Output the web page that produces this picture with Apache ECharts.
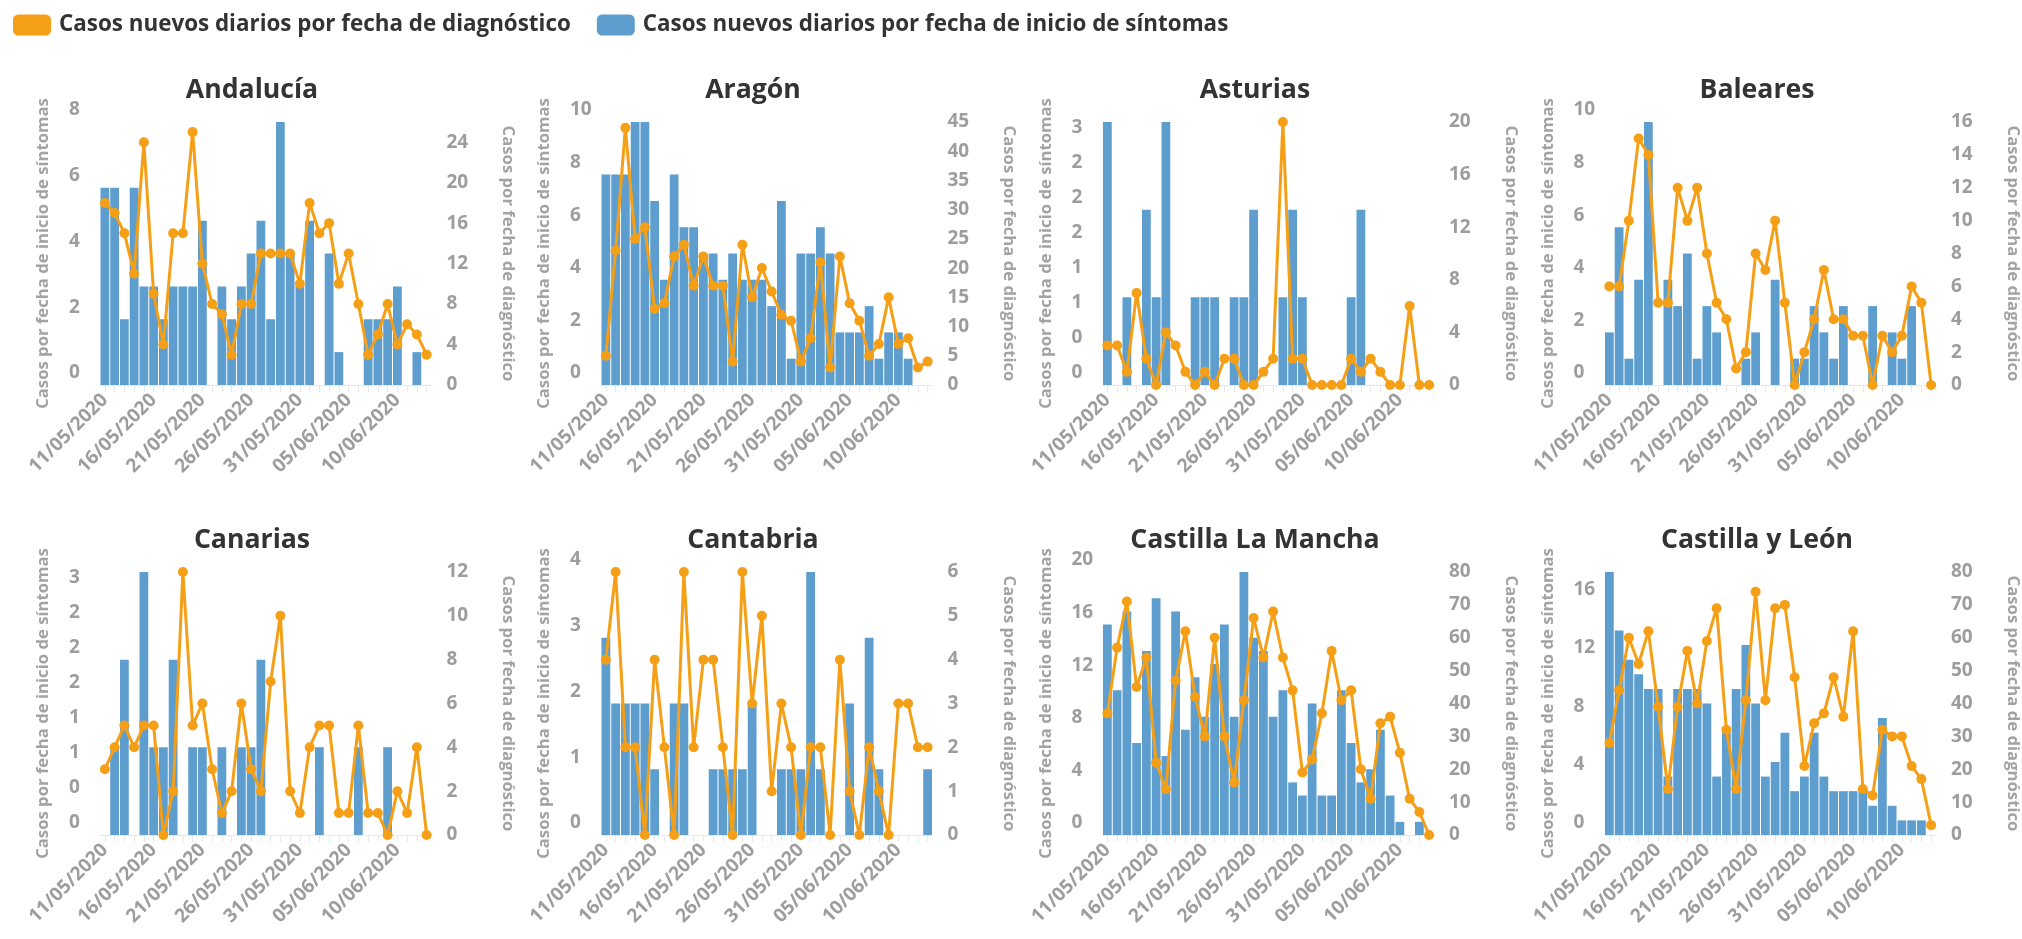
<!DOCTYPE html>
<html><head><meta charset="utf-8">
<script src="https://cdn.jsdelivr.net/npm/echarts@6/dist/echarts.min.js"></script>
<style>html,body{margin:0;padding:0;background:#fff}#c{width:2022px;height:939px}</style>
</head><body><div id="c"></div>
<script>
// ---------- DATA ----------
const dates = ['11/05/2020','12/05/2020','13/05/2020','14/05/2020','15/05/2020','16/05/2020','17/05/2020','18/05/2020','19/05/2020','20/05/2020',
  '21/05/2020','22/05/2020','23/05/2020','24/05/2020','25/05/2020','26/05/2020','27/05/2020','28/05/2020','29/05/2020','30/05/2020',
  '31/05/2020','01/06/2020','02/06/2020','03/06/2020','04/06/2020','05/06/2020','06/06/2020','07/06/2020','08/06/2020','09/06/2020',
  '10/06/2020','11/06/2020','12/06/2020','13/06/2020'];
const regions = ['Andalucía','Aragón','Asturias','Baleares','Canarias','Cantabria','Castilla La Mancha','Castilla y León'];
const legendDiag = 'Casos nuevos diarios por fecha de diagnóstico';
const legendSint = 'Casos nuevos diarios por fecha de inicio de síntomas';
const leftAxisTitle = 'Casos por fecha de inicio de síntomas';
const rightAxisTitle = 'Casos por fecha de diagnóstico';

// bars: casos por fecha de inicio de síntomas (left axis)
const andaluciaSintomas = [6,6,2,6,3,3,2,3,3,3,5,0,3,2,3,4,5,2,8,4,3,5,0,4,1,0,0,2,2,2,3,0,1,0];
const aragonSintomas    = [8,8,8,10,10,7,4,8,6,6,5,5,4,5,4,4,4,3,7,1,5,5,6,5,2,2,2,3,1,2,2,1,0,0];
const asturiasSintomas  = [3,0,1,0,2,1,3,0,0,1,1,1,0,1,1,2,0,0,1,2,1,0,0,0,0,1,2,0,0,0,0,0,0,0];
const balearesSintomas  = [2,6,1,4,10,0,4,3,5,1,3,2,0,0,1,2,0,4,0,1,1,3,2,1,3,0,0,3,0,2,1,3,0,0];
const canariasSintomas  = [0,1,2,0,3,1,1,2,0,1,1,0,1,0,1,1,2,0,0,0,0,0,1,0,0,0,1,0,0,1,0,0,0,0];
const cantabriaSintomas = [3,2,2,2,2,1,0,2,2,0,0,1,1,1,1,2,0,0,1,1,1,4,1,0,0,2,0,3,1,0,0,0,0,1];
const clmSintomas       = [16,11,17,7,14,18,6,17,8,12,9,13,16,9,20,15,14,9,11,4,3,10,3,3,11,7,4,5,8,3,1,0,1,0];
const cylSintomas       = [18,14,12,11,10,10,4,10,10,10,9,4,7,10,13,9,4,5,7,3,4,7,4,3,3,3,3,2,8,2,1,1,1,0];

// lines: casos por fecha de diagnóstico (right axis)
const andaluciaDiag = [18,17,15,11,24,9,4,15,15,25,12,8,7,3,8,8,13,13,13,13,10,18,15,16,10,13,8,3,5,8,4,6,5,3];
const aragonDiag    = [5,23,44,25,27,13,14,22,24,17,22,17,17,4,24,15,20,16,12,11,4,8,21,3,22,14,11,5,7,15,7,8,3,4];
const asturiasDiag  = [3,3,1,7,2,0,4,3,1,0,1,0,2,2,0,0,1,2,20,2,2,0,0,0,0,2,1,2,1,0,0,6,0,0];
const balearesDiag  = [6,6,10,15,14,5,5,12,10,12,8,5,4,1,2,8,7,10,5,0,2,4,7,4,4,3,3,0,3,2,3,6,5,0];
const canariasDiag  = [3,4,5,4,5,5,0,2,12,5,6,3,1,2,6,3,2,7,10,2,1,4,5,5,1,1,5,1,1,0,2,1,4,0];
const cantabriaDiag = [4,6,2,2,0,4,2,0,6,2,4,4,2,0,6,3,5,1,3,2,0,2,2,0,4,1,0,2,1,0,3,3,2,2];
const clmDiag       = [37,57,71,45,54,22,14,47,62,42,30,60,30,16,41,66,54,68,54,44,19,23,37,56,41,44,20,11,34,36,25,11,7,0];
const cylDiag       = [28,44,60,52,62,39,14,39,56,40,59,69,32,14,41,74,41,69,70,48,21,34,37,48,36,62,14,12,32,30,30,21,17,3];

// axis scales (ticks)
const leftMax   = [8,10,3,10,3,4,20,18];
const leftStep  = [2,2,0.4,2,0.4,1,4,4];
const rightMax  = [26,45,20,16,12,6,80,80];
const rightStep = [4,5,4,2,2,1,10,10];

const sintomas = [andaluciaSintomas,aragonSintomas,asturiasSintomas,balearesSintomas,canariasSintomas,cantabriaSintomas,clmSintomas,cylSintomas];
const diag = [andaluciaDiag,aragonDiag,asturiasDiag,balearesDiag,canariasDiag,cantabriaDiag,clmDiag,cylDiag];

// ---------- STYLE / LAYOUT ----------
const FONT = 'Open Sans';
const ORANGE = '#f59f17';
const BLUE = '#5d9ecf';
const GRAY = '#9d9d9d';
const colLeft = [100, 601, 1102.5, 1604.5];
const titleX = [247, 748, 1250, 1752];
const rowTop = [122, 572];
const titleMid = [87, 537];
const gridW = 331.5, gridH = 263;

// font sizes fitted to the measured text widths of the reference
const mctx = document.createElement('canvas').getContext('2d');
function fit(text, width, fallback) {
  mctx.font = 'bold 100px "' + FONT + '"';
  const w = mctx.measureText(text).width;
  return w > 0 ? Math.round(1000 * width / w) / 10 : fallback;
}
const legendSize = fit(legendDiag, 512, 21);
const titleSize = (fit('Castilla La Mancha', 248, 25) + fit('Andalucía', 133, 25)) / 2;
const axisTitleSize = (fit(leftAxisTitle, 312, 16) + fit(rightAxisTitle, 255, 16)) / 2;
const labelSize = 19;

const isMult = (m, s) => Math.abs(m / s - Math.round(m / s)) < 1e-6;

const grids = [], xAxes = [], yAxes = [], series = [], titles = [];
regions.forEach((name, k) => {
  const r = Math.floor(k / 4), c = k % 4;
  grids.push({left: colLeft[c], top: rowTop[r], width: gridW, height: gridH});
  titles.push({text: name, left: titleX[c], top: titleMid[r] - titleSize * 0.65, textAlign: 'center',
    textStyle: {fontFamily: FONT, fontSize: titleSize, fontWeight: 'bold', color: '#333', lineHeight: titleSize * 1.2}});
  xAxes.push({type: 'category', gridIndex: k, data: dates, boundaryGap: true,
    axisLine: {show: true, lineStyle: {color: '#e8e8e8', width: 1}},
    axisTick: {show: true, interval: 0, alignWithLabel: true, length: 7, lineStyle: {color: '#e8e8e8'}},
    axisLabel: {interval: 4, rotate: 45, margin: 12, fontFamily: FONT, fontSize: labelSize, fontWeight: 'bold', color: GRAY},
    splitLine: {show: false}});
  yAxes.push({type: 'value', gridIndex: k, position: 'left', min: 0, max: leftMax[k], interval: leftStep[k],
    axisLine: {show: false}, axisTick: {show: false}, splitLine: {show: false},
    axisLabel: {align: 'left', margin: 31, verticalAlign: 'bottom', lineHeight: 24,
      showMaxLabel: isMult(leftMax[k], leftStep[k]),
      formatter: v => String(Math.round(v)),
      fontFamily: FONT, fontSize: labelSize, fontWeight: 'bold', color: GRAY},
    name: leftAxisTitle, nameLocation: 'middle', nameGap: 48,
    nameTextStyle: {fontFamily: FONT, fontSize: axisTitleSize, fontWeight: 'bold', color: '#a3a3a3'}});
  yAxes.push({type: 'value', gridIndex: k, position: 'right', min: 0, max: rightMax[k], interval: rightStep[k],
    axisLine: {show: false}, axisTick: {show: false}, splitLine: {show: false},
    axisLabel: {margin: 15, showMaxLabel: isMult(rightMax[k], rightStep[k]),
      fontFamily: FONT, fontSize: labelSize, fontWeight: 'bold', color: GRAY},
    name: rightAxisTitle, nameLocation: 'middle', nameGap: 68, nameRotate: -90,
    nameTextStyle: {fontFamily: FONT, fontSize: axisTitleSize, fontWeight: 'bold', color: '#a3a3a3'}});
  series.push({type: 'bar', name: legendSint, xAxisIndex: k, yAxisIndex: 2 * k, data: sintomas[k],
    barCategoryGap: '10%', itemStyle: {color: BLUE}, z: 2});
  series.push({type: 'line', name: legendDiag, xAxisIndex: k, yAxisIndex: 2 * k + 1, data: diag[k],
    symbol: 'circle', symbolSize: 10, showAllSymbol: true,
    lineStyle: {color: ORANGE, width: 3}, itemStyle: {color: ORANGE}, z: 3});
});

const chart = echarts.init(document.getElementById('c'), null, {renderer: 'canvas'});
chart.setOption({
  animation: false,
  backgroundColor: '#fff',
  title: titles,
  legend: {left: 8, top: 9, itemWidth: 38, itemHeight: 21, itemGap: 26, icon: 'roundRect',
    data: [{name: legendDiag, itemStyle: {color: ORANGE}}, {name: legendSint, itemStyle: {color: BLUE}}],
    textStyle: {fontFamily: FONT, fontSize: legendSize, fontWeight: 'bold', color: '#333', padding: [0, 0, 0, 3]},
    selectedMode: false},
  grid: grids, xAxis: xAxes, yAxis: yAxes, series: series
});
</script></body></html>
